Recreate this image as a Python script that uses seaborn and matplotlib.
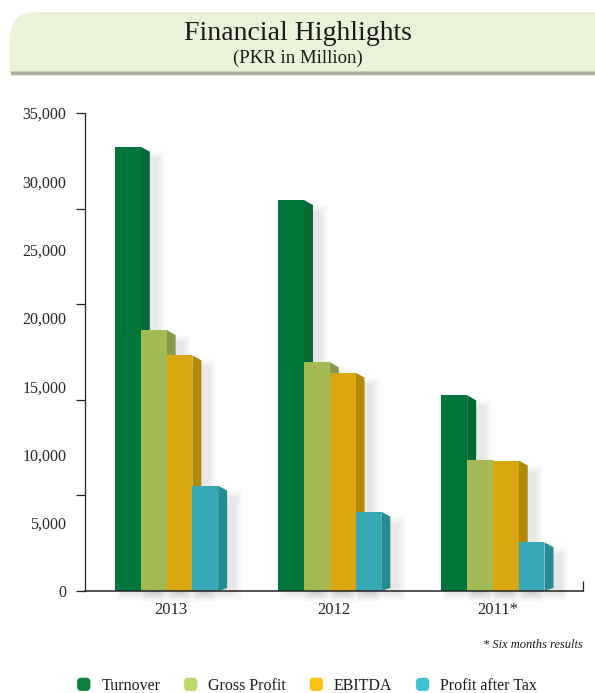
import numpy as np
import pandas as pd
import matplotlib
matplotlib.use("Agg")
import matplotlib.pyplot as plt
import seaborn as sns
from matplotlib.patches import Polygon, FancyBboxPatch, PathPatch, Rectangle, Patch
from matplotlib.path import Path
from matplotlib.legend_handler import HandlerPatch
from matplotlib.colors import to_hex

# ---- data (PKR in million) ----
years = ["2013", "2012", "2011*"]
metrics = ["Turnover", "Gross Profit", "EBITDA", "Profit after Tax"]
turnover = [32530, 28630, 14330]
gross_profit = [19110, 16750, 9570]
ebitda = [17260, 15990, 9550]
profit_after_tax = [7710, 5810, 3570]

y_label_values = [0, 5000, 10000, 15000, 20000, 25000, 30000, 35000]
y_label_text = ["0", "5,000", "10,000", "15,000", "20,000", "25,000", "30,000", "35,000"]
y_tick_marks = [0, 7000, 14000, 21000, 28000, 35000]

# ---- colours ----
face_colors = ["#00763a", "#a3ba55", "#d9a710", "#37a8b5"]
side_colors = ["#006a32", "#859b45", "#b38a06", "#268a94"]
legend_colors = ["#0a7f3f", "#bcd96a", "#fdc010", "#3fc3d0"]
header_color = "#eaf3d9"

df = pd.DataFrame({
    "year": np.repeat(years, len(metrics)),
    "metric": metrics * len(years),
    "value": np.column_stack([turnover, gross_profit, ebitda, profit_after_tax]).ravel(),
})

sns.set_style("white")
plt.rcParams["font.family"] = ["Liberation Serif", "DejaVu Serif"]
plt.rcParams["text.color"] = "#1a1a1a"

W, H = 595, 693
fig = plt.figure(figsize=(W / 100, H / 100), dpi=100)

# background layer in pixel coordinates for the header band
bg = fig.add_axes([0, 0, 1, 1])
bg.set_xlim(0, W)
bg.set_ylim(H, 0)
bg.axis("off")
bg.set_zorder(0)

top, bottom, left, r = 12, 73, 10, 26
verts = [(left, bottom), (left, top + r), (left, top), (left + r, top),
         (W + 10, top), (W + 10, bottom), (left, bottom)]
codes = [Path.MOVETO, Path.LINETO, Path.CURVE3, Path.CURVE3,
         Path.LINETO, Path.LINETO, Path.CLOSEPOLY]
bg.add_patch(PathPatch(Path(verts, codes), facecolor=header_color, edgecolor="none"))
shade = ["#c9d1b7", "#aab39a", "#9ea78f", "#b9bfae", "#dde0d6"]
for i, c in enumerate(shade):
    bg.add_patch(Rectangle((left + 1, bottom - 2 + i), W, 1.05, facecolor=c, edgecolor="none"))

bg.text(298, 33, "Financial Highlights", ha="center", va="center", fontsize=20)
bg.text(298, 58, "(PKR in Million)", ha="center", va="center", fontsize=13.5)

# ---- main axes ----
ax = fig.add_axes([85 / W, (H - 591) / H, 498 / W, 478 / H])
ax.set_zorder(1)
ax.patch.set_alpha(0)

sns.barplot(data=df, x="year", y="value", hue="metric", order=years,
            hue_order=metrics, palette=face_colors, saturation=1,
            width=0.632, gap=0, linewidth=0, legend=False, ax=ax, zorder=3)

xmin, xmax = -0.5, 2.552
ax.set_xlim(xmin, xmax)
ax.set_ylim(0, 35000)

ux = (xmax - xmin) / 498.0     # data units per pixel (x)
uy = 35000 / 478.0             # data units per pixel (y)

side_of = {to_hex(f): s for f, s in zip(face_colors, side_colors)}
bars = [p for p in ax.patches if isinstance(p, Rectangle)]
depth = 9 * ux
for p in bars:
    x0 = p.get_x()
    x1 = x0 + p.get_width()
    h = p.get_height()
    side = side_of[to_hex(p.get_facecolor())]
    # right-hand face of the bar
    ax.add_patch(Polygon([(x1, h), (x1 + depth, h - 5 * uy),
                          (x1 + depth, 3 * uy), (x1, 0)],
                         closed=True, facecolor=side, edgecolor="none", zorder=2.6))
    # soft drop shadow, offset to the lower right
    for k in range(6):
        e = k * 1.5
        ax.add_patch(Rectangle((x0 + (8 - e) * ux, -(2 + e) * uy),
                               (x1 - x0) + depth + (2 * e) * ux,
                               h - (12 - e) * uy + (2 + e) * uy,
                               facecolor="#000000", alpha=0.014, edgecolor="none",
                               zorder=1.5, clip_on=False))

# y axis: marks every 7,000, labels every 5,000
ax.yaxis.remove_overlapping_locs = False
ax.set_yticks(y_tick_marks)
ax.set_yticklabels([])
ax.set_yticks(y_label_values, minor=True)
ax.set_yticklabels(y_label_text, minor=True, fontsize=11.5)
ax.tick_params(axis="y", which="major", length=6.75, width=0.9, color="#222222", left=True)
ax.tick_params(axis="y", which="minor", length=0, pad=13.5, left=True)

# x axis: one closing mark at the right end, year labels under each group
ax.xaxis.remove_overlapping_locs = False
ax.set_xticks([xmax])
ax.set_xticklabels([])
ax.tick_params(axis="x", which="major", direction="in", length=7.5, width=0.9,
               color="#222222", bottom=True)
ax.set_xticks([i + depth / 2 for i in range(len(years))], minor=True)
ax.set_xticklabels(years, minor=True, fontsize=12)
ax.tick_params(axis="x", which="minor", length=0, pad=8, bottom=True)
ax.set_xlabel("")
ax.set_ylabel("")

for s in ["top", "right"]:
    ax.spines[s].set_visible(False)
ax.spines["left"].set_color("#222222")
ax.spines["left"].set_linewidth(0.9)
ax.spines["bottom"].set_color("#222222")
ax.spines["bottom"].set_linewidth(1.1)
ax.spines["bottom"].set_zorder(4)

fig.text(583 / W, 1 - 645 / H, "* Six months results", ha="right", va="center",
         style="italic", fontsize=9)


class RoundedSquare(HandlerPatch):
    def create_artists(self, legend, orig_handle, xdescent, ydescent, width, height,
                       fontsize, trans):
        s = 9.5
        cx = -xdescent + width / 2
        cy = -ydescent + height / 2
        p = FancyBboxPatch((cx - s / 2, cy - s / 2), s, s,
                           boxstyle="round,pad=0,rounding_size=3",
                           facecolor=orig_handle.get_facecolor(), edgecolor="none")
        p.set_transform(trans)
        return [p]


handles = [Patch(facecolor=c) for c in legend_colors]
fig.legend(handles, metrics, loc="center", bbox_to_anchor=(0.515, 7.5 / H), ncol=4,
           frameon=False, fontsize=11.5, handlelength=1.0, handleheight=1.0,
           handletextpad=0.6, columnspacing=1.4,
           handler_map={Patch: RoundedSquare()})

fig.savefig("out.png", dpi=100)
